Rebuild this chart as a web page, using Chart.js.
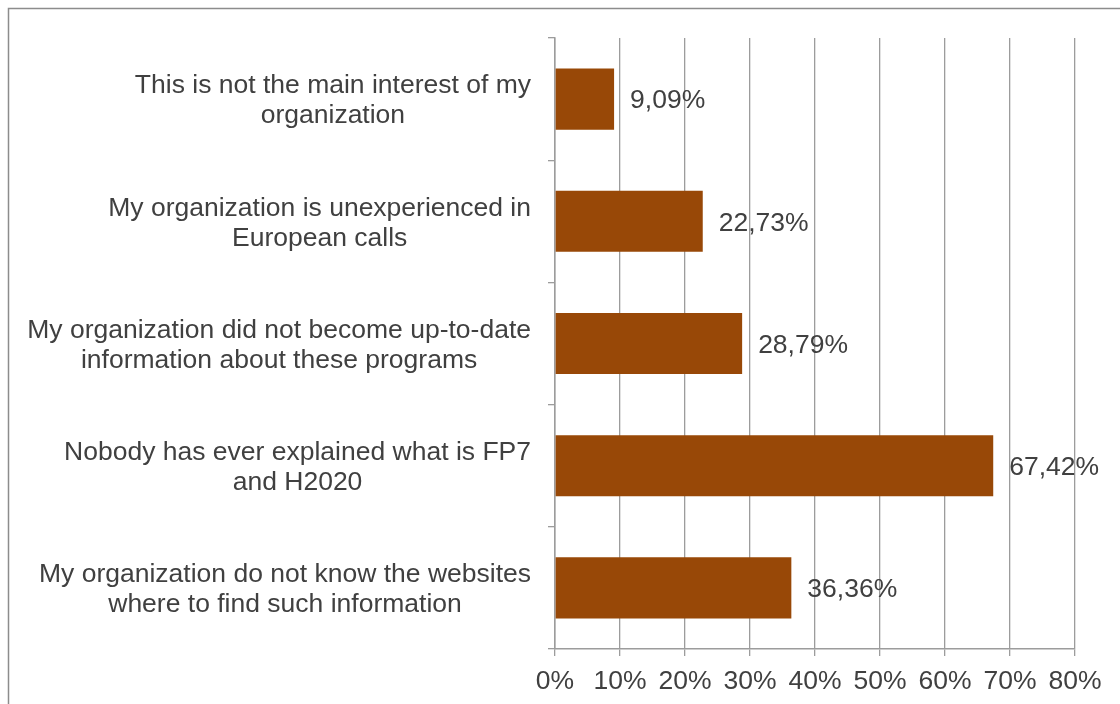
<!DOCTYPE html>
<html>
<head>
<meta charset="utf-8">
<script src="https://cdn.jsdelivr.net/npm/chart.js@4/dist/chart.umd.min.js"></script>
<style>
  html, body { margin: 0; padding: 0; background: #ffffff; }
  #wrap { width: 1120px; height: 704px; position: relative; }
</style>
</head>
<body>
<div id="wrap"><canvas id="chart"></canvas></div>
<script>
// --- datos del gráfico ---
const categorias = [
    ['This is not the main interest of my', 'organization'],
    ['My organization is unexperienced in', 'European calls'],
    ['My organization did not become up-to-date', 'information about these programs'],
    ['Nobody has ever explained what is FP7', 'and H2020'],
    ['My organization do not know the websites', 'where to find such information']
];
const porcentajes = [9.09, 22.73, 28.79, 67.42, 36.36];
const ticksX = [0, 10, 20, 30, 40, 50, 60, 70, 80];

const FUENTE = '"Liberation Sans", Arial, sans-serif';
const TAM_FUENTE = 26.5;
const COLOR_TEXTO = '#404040';
const COLOR_GRID = '#9c9c9c';

// marco gris (solo se ven el borde izquierdo y superior)
const marco = {
    id: 'marco',
    beforeDraw(chart) {
        const ctx = chart.ctx;
        ctx.save();
        ctx.strokeStyle = '#8c8c8c';
        ctx.lineWidth = 1.5;
        ctx.strokeRect(8.5, 8.5, 1400, 1000);
        ctx.restore();
    }
};

// etiquetas de categoría: bloque alineado a la derecha, líneas centradas
const etiquetasCategoria = {
    id: 'etiquetasCategoria',
    afterDraw(chart) {
        const ctx = chart.ctx;
        const y = chart.scales.y;
        const derecha = y.right - 24;
        ctx.save();
        ctx.font = TAM_FUENTE + 'px ' + FUENTE;
        ctx.fillStyle = COLOR_TEXTO;
        ctx.textAlign = 'center';
        ctx.textBaseline = 'middle';
        categorias.forEach((lineas, i) => {
            const cy = y.getPixelForValue(i) + 2;
            const ancho = Math.max(...lineas.map(l => ctx.measureText(l).width));
            const cx = derecha - ancho / 2;
            const alto = 30;
            const y0 = cy - (lineas.length - 1) * alto / 2;
            lineas.forEach((l, j) => ctx.fillText(l, cx, y0 + j * alto));
        });
        ctx.restore();
    }
};

// valores al final de cada barra
const etiquetasValor = {
    id: 'etiquetasValor',
    afterDatasetsDraw(chart) {
        const ctx = chart.ctx;
        const meta = chart.getDatasetMeta(0);
        ctx.save();
        ctx.font = TAM_FUENTE + 'px ' + FUENTE;
        ctx.fillStyle = COLOR_TEXTO;
        ctx.textAlign = 'left';
        ctx.textBaseline = 'middle';
        meta.data.forEach((barra, i) => {
            const texto = porcentajes[i].toFixed(2).replace('.', ',') + '%';
            ctx.fillText(texto, barra.x + 16, barra.y + 2);
        });
        ctx.restore();
    }
};

new Chart(document.getElementById('chart'), {
    type: 'bar',
    data: {
        labels: categorias,
        datasets: [{
            data: porcentajes,
            backgroundColor: '#984807',
            borderWidth: 0,
            barPercentage: 0.5,
            categoryPercentage: 1.0
        }]
    },
    options: {
        indexAxis: 'y',
        responsive: true,
        maintainAspectRatio: false,
        animation: false,
        layout: { padding: { left: 0, top: 38, right: 45, bottom: 0 } },
        plugins: {
            legend: { display: false },
            tooltip: { enabled: false }
        },
        scales: {
            x: {
                min: 0,
                max: 80,
                afterBuildTicks(scale) {
                    scale.ticks = ticksX.map(v => ({ value: v }));
                },
                afterFit(scale) { scale.height = 55; },
                grid: {
                    color: COLOR_GRID,
                    lineWidth: 1.3,
                    tickLength: 7,
                    drawTicks: true
                },
                border: { color: COLOR_GRID, width: 1.5 },
                ticks: {
                    color: COLOR_TEXTO,
                    font: { family: FUENTE, size: TAM_FUENTE },
                    padding: 10,
                    maxRotation: 0,
                    autoSkip: false,
                    callback: v => v + '%'
                }
            },
            y: {
                afterFit(scale) { scale.width = 555; },
                grid: {
                    offset: true,
                    drawOnChartArea: false,
                    color: COLOR_GRID,
                    lineWidth: 1.3,
                    tickLength: 7
                },
                border: { color: COLOR_GRID, width: 1.5 },
                ticks: { display: false }
            }
        }
    },
    plugins: [marco, etiquetasCategoria, etiquetasValor]
});
</script>
</body>
</html>
